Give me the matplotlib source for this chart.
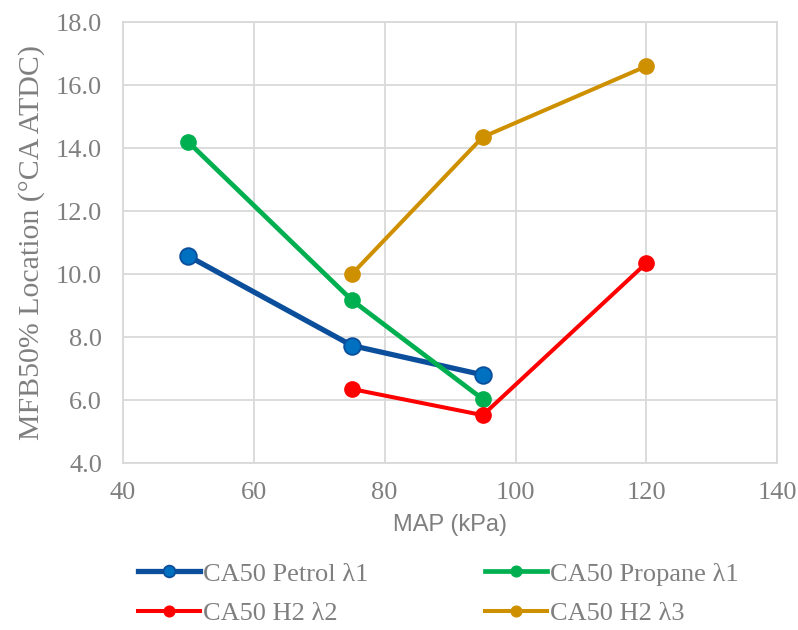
import matplotlib.pyplot as plt
import numpy as np

# MFB50% location vs manifold pressure
map_petrol = [50, 75, 95]
ca50_petrol = [10.57, 7.73, 6.80]

map_propane = [50, 75, 95]
ca50_propane = [14.19, 9.17, 6.03]

map_h2_l2 = [75, 95, 120]
ca50_h2_l2 = [6.35, 5.52, 10.35]

map_h2_l3 = [75, 95, 120]
ca50_h2_l3 = [10.0, 14.35, 16.6]

serif = ['Liberation Serif', 'DejaVu Serif']
grey = '#7f7f7f'

fig = plt.figure(figsize=(7.98, 6.30), dpi=100)
ax = fig.add_axes([0.154, 0.265, 0.82, 0.700])

h_pet, = ax.plot(map_petrol, ca50_petrol, color='#0B4F9C', lw=3.8, marker='o', ms=12,
                 mfc='#0070C0', mec='#0B4F9C', mew=1.3, label='CA50 Petrol λ1', zorder=3)
h_pro, = ax.plot(map_propane, ca50_propane, color='#00B050', lw=3.4, marker='o', ms=11,
                 mfc='#00B050', mec='#00B050', label='CA50 Propane λ1', zorder=3)
h_l2, = ax.plot(map_h2_l2, ca50_h2_l2, color='#FF0000', lw=2.9, marker='o', ms=11,
                mfc='#FF0000', mec='#FF0000', label='CA50 H2 λ2', zorder=3)
h_l3, = ax.plot(map_h2_l3, ca50_h2_l3, color='#CF9000', lw=2.9, marker='o', ms=11,
                mfc='#CF9000', mec='#CF9000', label='CA50 H2 λ3', zorder=3)

ax.set_xlim(40, 140)
ax.set_ylim(4, 18)
ax.set_xticks(np.arange(40, 141, 20))
ax.set_yticks(np.arange(4, 18.1, 2))
ax.set_yticklabels([f'{v:.1f}' for v in np.arange(4, 18.1, 2)])

ax.grid(True, color='#D9D9D9', lw=1.3)
ax.set_axisbelow(True)
for s in ax.spines.values():
    s.set_color('#D9D9D9')
    s.set_linewidth(1.3)
ax.tick_params(length=0, labelcolor=grey, labelsize=19)
ax.tick_params(axis='y', pad=15)
ax.tick_params(axis='x', pad=14)
for lbl in ax.get_xticklabels() + ax.get_yticklabels():
    lbl.set_family(serif)

ax.set_xlabel('MAP (kPa)', fontsize=17, color=grey, family=['Liberation Sans', 'DejaVu Sans'],
              labelpad=7)
ax.set_ylabel('MFB50% Location (°CA ATDC)', fontsize=21.5, color=grey, family=serif,
              labelpad=8)

# legend filled row by row: petrol, propane / H2 λ2, H2 λ3
handles = [h_pet, h_l2, h_pro, h_l3]
fig.legend(handles, [h.get_label() for h in handles],
           loc='lower left', bbox_to_anchor=(0.173, 0.008), ncol=2, frameon=False,
           prop={'family': serif, 'size': 19}, labelcolor=grey,
           handlelength=2.35, handletextpad=0.12, columnspacing=4.4,
           labelspacing=0.6, markerscale=0.7, borderpad=0, borderaxespad=0)

fig.savefig('out.png', dpi=100)
